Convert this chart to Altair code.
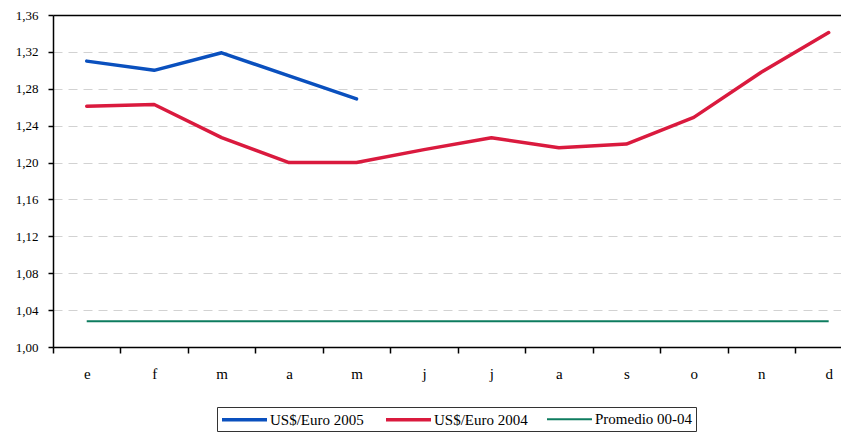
import json
import altair as alt
import pandas as pd

months = ["e", "f", "m", "a", "m", "j", "j", "a", "s", "o", "n", "d"]
series_names = ["US$/Euro 2005", "US$/Euro 2004", "Promedio 00-04"]
usd_2005 = [1.310, 1.300, 1.319, 1.294, 1.269]
usd_2004 = [1.261, 1.263, 1.227, 1.200, 1.200, 1.214, 1.227, 1.216, 1.220, 1.249, 1.298, 1.341]
promedio = [1.028, 1.028, 1.028, 1.028, 1.028, 1.028, 1.028, 1.028, 1.028, 1.028, 1.028, 1.028]
y_ticks = [1.00, 1.04, 1.08, 1.12, 1.16, 1.20, 1.24, 1.28, 1.32, 1.36]

colors = ["#0A50BE", "#DA1A3E", "#0E7C5F"]
widths = [3.5, 3.5, 2.0]

rows = []
for name, vals in zip(series_names, [usd_2005, usd_2004, promedio]):
    for i, v in enumerate(vals):
        rows.append({"mes": i, "serie": name, "valor": v})
df = pd.DataFrame(rows)

FONT = "Liberation Serif"
label_expr = json.dumps(months) + "[datum.value]"

PLOT_W = 788
STEP = 67.45
x_scale = alt.Scale(domain=[-0.5, -0.5 + PLOT_W / STEP], nice=False, zero=False)
y_scale = alt.Scale(domain=[1.0, 1.36], nice=False, zero=False)

color = alt.Color(
    "serie:N",
    scale=alt.Scale(domain=series_names, range=colors),
    legend=alt.Legend(title=None),
)
stroke_w = alt.StrokeWidth(
    "serie:N",
    scale=alt.Scale(type="ordinal", domain=series_names, range=widths),
    legend=alt.Legend(title=None),
)

y_enc = alt.Y(
    "valor:Q",
    scale=y_scale,
    title=None,
    axis=alt.Axis(
        values=y_ticks,
        labelExpr="replace(format(datum.value, '.2f'), '.', ',')",
        labelFont=FONT,
        labelFontSize=13,
        labelColor="black",
        labelPadding=10,
        tickSize=5,
        tickColor="black",
        tickWidth=1.5,
        domainColor="black",
        domainWidth=1.5,
        grid=True,
        gridColor={"condition": {"test": "datum.value > 1.359", "value": "black"}, "value": "#d2d2d2"},
        gridDash={"condition": {"test": "datum.value > 1.359", "value": []}, "value": [9, 6]},
        gridWidth={"condition": {"test": "datum.value > 1.359", "value": 1.5}, "value": 1},
    ),
)

main = alt.Chart(df).transform_filter(
    alt.datum.serie != series_names[2]
).mark_line(strokeCap="round", strokeJoin="round").encode(
    x=alt.X(
        "mes:Q",
        scale=x_scale,
        title=None,
        axis=alt.Axis(
            orient="bottom",
            values=list(range(12)),
            labelExpr=label_expr,
            labelFont=FONT,
            labelFontSize=15,
            labelColor="black",
            labelPadding=19,
            ticks=False,
            tickSize=0,
            domainColor="black",
            domainWidth=1.5,
            grid=False,
        ),
    ),
    y=y_enc,
    color=color,
    strokeWidth=stroke_w,
)

avg = alt.Chart(df).transform_filter(
    alt.datum.serie == series_names[2]
).mark_line().encode(
    x=alt.X(
        "mes:Q",
        scale=x_scale,
        title=None,
        axis=alt.Axis(
            orient="bottom",
            values=[i - 0.5 for i in range(12)],
            labels=False,
            ticks=True,
            tickSize=6,
            tickColor="black",
            tickWidth=1.5,
            domain=False,
            grid=False,
        ),
    ),
    y=y_enc,
    color=color,
    strokeWidth=stroke_w,
)

chart = alt.layer(main, avg).resolve_axis(x="independent").properties(
    width=PLOT_W,
    height=332,
    padding={"left": 7, "top": 1, "right": 0, "bottom": 0},
).configure_view(
    stroke=None
).configure_legend(
    orient="none",
    legendX=164,
    legendY=392,
    direction="horizontal",
    columns=3,
    strokeColor="#333333",
    fillColor="white",
    padding=3,
    columnPadding=15,
    labelFont=FONT,
    labelFontSize=15,
    labelColor="black",
    labelOffset=31,
    symbolType="M-1,0H5",
    symbolSize=225,
)

chart.save("out.html", embed_options={"renderer": "svg", "actions": False})
